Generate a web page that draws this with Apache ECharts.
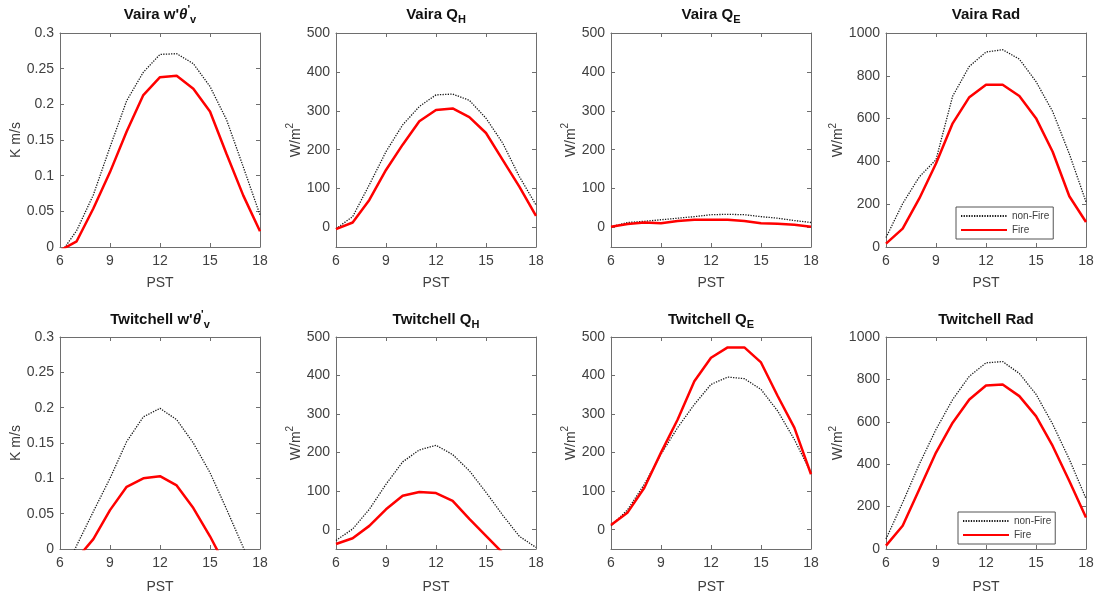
<!DOCTYPE html>
<html>
<head>
<meta charset="utf-8">
<script src="https://cdn.jsdelivr.net/npm/echarts@6/dist/echarts.min.js"></script>
<style>
  html, body { margin: 0; padding: 0; background: #fff; }
  #chart { width: 1097px; height: 598px; }
</style>
</head>
<body>
<div id="chart"></div>
<script>
// Hourly composites (PST) for fire and non-fire days at the two sites
const hours = [6, 7, 8, 9, 10, 11, 12, 13, 14, 15, 16, 17, 18];

const vairaWthNon  = [-0.010, 0.023, 0.073, 0.140, 0.205, 0.245, 0.270, 0.271, 0.257, 0.225, 0.178, 0.112, 0.045];
const vairaWthFire = [-0.005, 0.008, 0.054, 0.105, 0.162, 0.213, 0.238, 0.240, 0.222, 0.190, 0.130, 0.072, 0.022];
const vairaQHNon   = [-3, 28, 110, 195, 264, 311, 341, 343, 327, 281, 217, 131, 58];
const vairaQHFire  = [-4, 13, 71, 148, 213, 273, 302, 306, 284, 243, 174, 105, 30];
const vairaQENon   = [2, 13, 16, 20, 24, 28, 33, 34, 33, 28, 24, 18, 13];
const vairaQEFire  = [2, 9, 13, 11, 17, 20, 20, 20, 17, 11, 10, 7, 2];
const vairaRadNon  = [44, 203, 328, 408, 705, 844, 911, 922, 878, 773, 633, 435, 211];
const vairaRadFire = [16, 86, 227, 390, 578, 700, 758, 758, 706, 602, 445, 237, 117];

const twWthNon  = [-0.045, 0.005, 0.053, 0.100, 0.152, 0.187, 0.199, 0.183, 0.150, 0.108, 0.056, 0.002, -0.050];
const twWthFire = [-0.030, -0.014, 0.014, 0.055, 0.088, 0.100, 0.103, 0.090, 0.058, 0.018, -0.027, -0.060, -0.080];
const twQHNon   = [-28, 2, 53, 118, 176, 207, 219, 195, 153, 97, 38, -17, -46];
const twQHFire  = [-37, -22, 10, 53, 88, 98, 95, 75, 28, -16, -60, -80, -90];
const twQENon   = [10, 52, 118, 196, 265, 325, 377, 396, 392, 364, 308, 234, 148];
const twQEFire  = [12, 45, 109, 200, 286, 385, 446, 473, 473, 434, 347, 265, 144];
const twRadNon  = [47, 219, 400, 564, 705, 815, 878, 884, 828, 730, 589, 423, 238];
const twRadFire = [16, 110, 282, 455, 596, 705, 771, 776, 721, 627, 486, 321, 149];

// Tick values
const hourTicks   = [6, 9, 12, 15, 18];
const fluxTicks   = [0, 0.05, 0.1, 0.15, 0.2, 0.25, 0.3];
const energyTicks = [0, 100, 200, 300, 400, 500];
const radTicks    = [0, 200, 400, 600, 800, 1000];

const FONT = '"Liberation Sans", Arial, Helvetica, sans-serif';
const AXIS_COLOR = '#6e6e6e';
const TEXT_COLOR = '#404040';

const yKinds = {
  flux:   { min: 0,   max: 0.3,  ticks: fluxTicks,   name: 'K m/s' },
  energy: { min: -50, max: 500,  ticks: energyTicks, name: 'W/m{sup|2}' },
  rad:    { min: 0,   max: 1000, ticks: radTicks,    name: 'W/m{sup|2}' }
};

const rows = [
  { top: 33,  height: 214, titleY: 15,  nameGapX: 29, site: 'Vaira' },
  { top: 337, height: 212, titleY: 320, nameGapX: 31, site: 'Twitchell' }
];
const cols = [
  { left: 60,  width: 200, kind: 'flux',   title: " w'{th|θ}{sup|'}{sub|v}", nameGap: 37 },
  { left: 336, width: 200, kind: 'energy', title: ' Q{sub|H}', nameGap: 30 },
  { left: 611, width: 200, kind: 'energy', title: ' Q{sub|E}', nameGap: 30 },
  { left: 886, width: 200, kind: 'rad',    title: ' Rad',      nameGap: 30 }
];

const panelData = [
  [[vairaWthNon, vairaWthFire], [vairaQHNon, vairaQHFire], [vairaQENon, vairaQEFire], [vairaRadNon, vairaRadFire]],
  [[twWthNon, twWthFire],       [twQHNon, twQHFire],       [twQENon, twQEFire],       [twRadNon, twRadFire]]
];

const grid = [], xAxis = [], yAxis = [], series = [], graphic = [];

const tickStyle = { show: true, inside: true, length: 4, lineStyle: { color: AXIS_COLOR, width: 1 } };
const lineStyleAxis = { show: true, onZero: false, lineStyle: { color: AXIS_COLOR, width: 1 } };
const plainNumber = v => String(v);

rows.forEach((row, r) => {
  cols.forEach((col, c) => {
    const g = grid.length;
    grid.push({ left: col.left, top: row.top, width: col.width, height: row.height, containLabel: false });
    const yk = yKinds[col.kind];

    // bottom x axis (labelled) and top x axis (ticks only)
    const xb = xAxis.length;
    xAxis.push({
      type: 'value', gridIndex: g, position: 'bottom', min: 6, max: 18,
      axisLine: lineStyleAxis,
      axisTick: Object.assign({}, tickStyle, { customValues: hourTicks }),
      axisLabel: { customValues: hourTicks, formatter: plainNumber, fontSize: 14, fontFamily: FONT, color: TEXT_COLOR, margin: 7 },
      splitLine: { show: false },
      name: 'PST', nameLocation: 'middle', nameGap: row.nameGapX,
      nameTextStyle: { fontSize: 14, fontFamily: FONT, color: TEXT_COLOR }
    });
    xAxis.push({
      type: 'value', gridIndex: g, position: 'top', min: 6, max: 18,
      axisLine: lineStyleAxis,
      axisTick: Object.assign({}, tickStyle, { customValues: hourTicks }),
      axisLabel: { show: false },
      splitLine: { show: false }
    });

    // left y axis (labelled) and right y axis (ticks only)
    const yl = yAxis.length;
    yAxis.push({
      type: 'value', gridIndex: g, position: 'left', min: yk.min, max: yk.max,
      axisLine: lineStyleAxis,
      axisTick: Object.assign({}, tickStyle, { customValues: yk.ticks }),
      axisLabel: { customValues: yk.ticks, formatter: plainNumber, fontSize: 14, fontFamily: FONT, color: TEXT_COLOR, margin: 6 },
      splitLine: { show: false },
      name: yk.name, nameLocation: 'middle', nameGap: col.nameGap,
      nameTextStyle: {
        fontSize: 14, fontFamily: FONT, color: TEXT_COLOR,
        rich: { sup: { fontSize: 10, fontFamily: FONT, color: TEXT_COLOR, padding: [0, 0, 10, 0] } }
      }
    });
    yAxis.push({
      type: 'value', gridIndex: g, position: 'right', min: yk.min, max: yk.max,
      axisLine: lineStyleAxis,
      axisTick: Object.assign({}, tickStyle, { customValues: yk.ticks }),
      axisLabel: { show: false },
      splitLine: { show: false }
    });

    const [nonFire, fire] = panelData[r][c];
    series.push({
      name: 'non-Fire', type: 'line', xAxisIndex: xb, yAxisIndex: yl,
      data: hours.map((h, i) => [h, nonFire[i]]),
      symbol: 'none', clip: true, silent: true, animation: false,
      lineStyle: { color: '#1a1a1a', width: 1.3, type: [1.3, 1.3] },
      itemStyle: { color: '#1a1a1a' }
    });
    series.push({
      name: 'Fire', type: 'line', xAxisIndex: xb, yAxisIndex: yl,
      data: hours.map((h, i) => [h, fire[i]]),
      symbol: 'none', clip: true, silent: true, animation: false,
      lineStyle: { color: '#ff0000', width: 2.5 },
      itemStyle: { color: '#ff0000' }
    });

    // panel title
    graphic.push({
      type: 'text', x: col.left + col.width / 2, y: row.titleY, silent: true,
      style: {
        text: row.site + col.title,
        fontSize: 15, fontWeight: 'bold', fontFamily: FONT, fill: '#111',
        align: 'center', verticalAlign: 'middle',
        rich: {
          sub: { fontSize: 11, fontWeight: 'bold', fontFamily: FONT, fill: '#111', padding: [10, 0, 0, 0] },
          sup: { fontSize: 11, fontWeight: 'bold', fontFamily: FONT, fill: '#111', padding: [0, 0, 10, 0] },
          th:  { fontSize: 15, fontStyle: 'italic', fontWeight: 'bold', fontFamily: FONT, fill: '#111' }
        }
      }
    });
  });
});

const legendBase = {
  orient: 'vertical', data: ['non-Fire', 'Fire'], selectedMode: false,
  itemWidth: 46, itemHeight: 10, itemGap: 4, padding: [4, 4, 4, 4],
  borderColor: '#555', borderWidth: 1, backgroundColor: '#fff',
  itemStyle: { opacity: 0 },
  textStyle: { fontSize: 10, fontFamily: FONT, color: TEXT_COLOR }
};

const chart = echarts.init(document.getElementById('chart'), null, { renderer: 'canvas' });
chart.setOption({
  backgroundColor: '#fff',
  animation: false,
  grid, xAxis, yAxis, series, graphic,
  legend: [
    Object.assign({}, legendBase, { left: 956, top: 207 }),
    Object.assign({}, legendBase, { left: 958, top: 512 })
  ]
});
</script>
</body>
</html>
